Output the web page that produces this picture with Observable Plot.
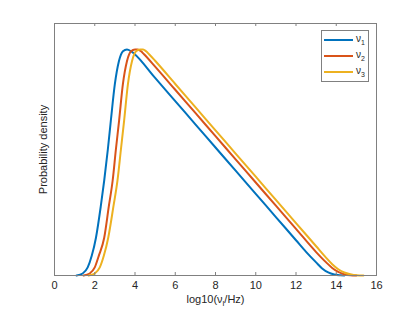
<!DOCTYPE html>
<html><head><meta charset="utf-8">
<script src="https://cdn.jsdelivr.net/npm/d3@7"></script>
<script src="https://cdn.jsdelivr.net/npm/@observablehq/plot@0.6"></script>
<style>
body{margin:0;background:#fff;}
#wrap{position:relative;width:415px;height:312px;font-family:"Liberation Sans",Arial,sans-serif;}
#legend{position:absolute;left:321px;top:30px;}
</style></head><body><div id="wrap"></div>
<script>
const seriesNames = ["1", "2", "3"]; // subscripts of ν
const colors = ["#0072BD", "#D95319", "#EDB120"];
const xTicks = [0, 2, 4, 6, 8, 10, 12, 14, 16];

const nu1X = [1.1, 1.4, 1.65, 1.85, 2.06, 2.3, 2.47, 2.65, 2.8, 3.0, 3.2, 3.4, 3.6, 3.8, 3.96, 5, 6, 7, 8, 9, 10, 11, 12, 12.5, 13, 13.3, 13.6, 13.9, 14.2, 14.4];
const nu1Y = [0, 0.008, 0.032, 0.078, 0.15, 0.275, 0.377, 0.5, 0.615, 0.76, 0.85, 0.89, 0.897, 0.89, 0.88, 0.784, 0.692, 0.600, 0.508, 0.416, 0.324, 0.232, 0.140, 0.094, 0.052, 0.028, 0.012, 0.004, 0.001, 0];

const nu2X = [1.45, 1.75, 2.0, 2.2, 2.47, 2.7, 2.89, 3.05, 3.21, 3.4, 3.6, 3.8, 4.0, 4.13, 4.3, 4.45, 5, 6, 7, 8, 9, 10, 11, 12, 13, 13.5, 13.8, 14.1, 14.4, 14.7, 15.0];
const nu2Y = [0, 0.008, 0.032, 0.078, 0.15, 0.275, 0.377, 0.5, 0.615, 0.76, 0.85, 0.89, 0.897, 0.897, 0.89, 0.878, 0.829, 0.737, 0.645, 0.553, 0.461, 0.369, 0.277, 0.185, 0.093, 0.052, 0.03, 0.014, 0.005, 0.001, 0];

const nu3X = [1.7, 2.0, 2.25, 2.45, 2.67, 2.93, 3.13, 3.3, 3.46, 3.65, 3.85, 4.05, 4.25, 4.4, 4.55, 4.7, 5, 6, 7, 8, 9, 10, 11, 12, 13, 13.5, 13.8, 14.1, 14.4, 14.7, 15.0, 15.35];
const nu3Y = [0, 0.008, 0.032, 0.078, 0.15, 0.275, 0.377, 0.5, 0.615, 0.76, 0.85, 0.89, 0.897, 0.897, 0.89, 0.878, 0.852, 0.760, 0.668, 0.576, 0.484, 0.392, 0.300, 0.208, 0.116, 0.07, 0.045, 0.025, 0.012, 0.005, 0.001, 0];

const allX = [nu1X, nu2X, nu3X], allY = [nu1Y, nu2Y, nu3Y];
const data = allX.flatMap((xs, s) => xs.map((x, i) => ({series: seriesNames[s], x, y: allY[s][i]})));

const axisColor = "#262626";
const chart = Plot.plot({
  width: 415, height: 312,
  marginLeft: 54, marginRight: 39, marginTop: 23, marginBottom: 37,
  style: {fontFamily: '"Liberation Sans", Arial, sans-serif', fontSize: "11px", color: axisColor, background: "#fff"},
  x: {domain: [0, 16]},
  y: {domain: [0, 1]},
  color: {domain: seriesNames, range: colors},
  marks: [
    Plot.line(data, {x: "x", y: "y", z: "series", stroke: "series", strokeWidth: 2, curve: "monotone-x"}),
    Plot.frame({stroke: "#808080", strokeWidth: 1}),
    Plot.tickX(xTicks, {x: d => d, insetTop: 249, stroke: "#808080"}),
    Plot.tickX(xTicks, {x: d => d, insetBottom: 249, stroke: "#808080"}),
    Plot.axisX({ticks: xTicks, tickSize: 0, tickPadding: 6, label: null, fill: axisColor}),
    Plot.axisY({ticks: [], label: null}),
    Plot.text(["log10(ν/Hz)"], {frameAnchor: "bottom", dy: 27, fontSize: 11, fill: axisColor, className: "xlab"}),
    Plot.text(["Probability density"], {frameAnchor: "left", textAnchor: "middle", dx: -11, rotate: -90, fontSize: 11, fill: axisColor})
  ]
});
document.getElementById("wrap").appendChild(chart);

// subscript in x label
const ns = "http://www.w3.org/2000/svg";
const xl = chart.querySelector(".xlab text");
if (xl) {
  xl.textContent = "";
  const parts = [["log10(ν", null], ["l", "sub"], ["/Hz)", null]];
  for (const [t, k] of parts) {
    const ts = document.createElementNS(ns, "tspan");
    ts.textContent = t;
    if (k) { ts.setAttribute("font-size", "8"); ts.setAttribute("dy", "3"); }
    else if (xl.childNodes.length) { ts.setAttribute("dy", "-3"); }
    xl.appendChild(ts);
  }
}

// legend
const lg = document.createElementNS(ns, "svg");
lg.setAttribute("id", "legend");
lg.setAttribute("width", 48); lg.setAttribute("height", 52);
lg.style.fontFamily = '"Liberation Sans", Arial, sans-serif';
const r = document.createElementNS(ns, "rect");
r.setAttribute("x", 0.5); r.setAttribute("y", 0.5); r.setAttribute("width", 47); r.setAttribute("height", 51);
r.setAttribute("fill", "#fff"); r.setAttribute("stroke", "#808080");
lg.appendChild(r);
seriesNames.forEach((s, i) => {
  const yy = 10 + i * 16;
  const ln = document.createElementNS(ns, "line");
  ln.setAttribute("x1", 3); ln.setAttribute("x2", 32); ln.setAttribute("y1", yy); ln.setAttribute("y2", yy);
  ln.setAttribute("stroke", colors[i]); ln.setAttribute("stroke-width", 2);
  lg.appendChild(ln);
  const tx = document.createElementNS(ns, "text");
  tx.setAttribute("x", 35); tx.setAttribute("y", yy + 2);
  tx.setAttribute("font-size", 10); tx.setAttribute("fill", axisColor);
  const a = document.createElementNS(ns, "tspan"); a.textContent = "ν";
  const b = document.createElementNS(ns, "tspan"); b.textContent = s;
  b.setAttribute("font-size", 7); b.setAttribute("dy", 3);
  tx.appendChild(a); tx.appendChild(b);
  lg.appendChild(tx);
});
document.getElementById("wrap").appendChild(lg);
</script>
</body></html>
